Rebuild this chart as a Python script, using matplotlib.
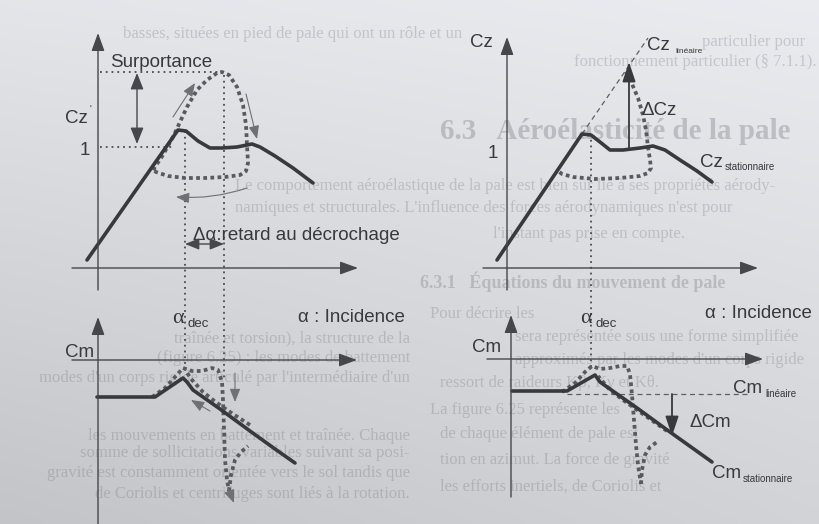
import numpy as np
import matplotlib.pyplot as plt

INK = "#38393d"
DOTS = "#575a60"
AXIS = "#46474c"
THIN = "#6e7075"

# ---- top left: Cz static vs dynamic stall loop ----
cz_stat_l_x = [87, 178, 186, 198, 210, 222, 237, 252, 260, 275, 293, 313]
cz_stat_l_y = [260, 130, 131, 141, 148, 148, 147, 144, 147, 156, 168, 183]
cz_dyn_l_x = [153, 163, 174, 180, 187, 197, 207, 217, 222, 229, 237, 243, 246,
              247, 248, 246, 240, 225, 205, 185, 168, 156, 153]
cz_dyn_l_y = [170, 155, 135, 122, 107, 90, 80, 73, 72, 75, 87, 105, 125,
              145, 163, 171, 175, 177, 178, 178, 176, 172, 170]

# ---- top right: Cz linear / stationary ----
cz_stat_r_x = [497, 582, 591, 600, 610, 623, 640, 653, 665, 680, 697, 712]
cz_stat_r_y = [260, 134, 135, 142, 150, 150, 148, 146, 150, 160, 171, 182]
cz_lin_r_x = [582, 648]
cz_lin_r_y = [134, 38]
cz_dyn_r_x = [626, 632, 638, 643, 646, 648, 650, 651, 648, 640, 620, 595, 573, 562, 558]
cz_dyn_r_y = [72, 84, 98, 115, 130, 147, 160, 168, 173, 176, 178, 179, 177, 174, 171]

# ---- bottom left: Cm ----
cm_stat_l_x = [97, 155, 183, 187, 193, 220, 250, 275, 295]
cm_stat_l_y = [397, 397, 378, 382, 390, 409, 431, 449, 463]
cm_dyn_l_x = [152, 165, 175, 183, 192, 202, 212, 218, 222, 223, 224, 225, 227, 229]
cm_dyn_l_y = [397, 388, 377, 368, 371, 371, 368, 370, 382, 400, 430, 460, 480, 491]
cm_ret_l_x = [229, 231, 235, 241, 248]
cm_ret_l_y = [491, 475, 460, 452, 446]
cm_up_l_x = [250, 233, 217, 203, 192, 185]
cm_up_l_y = [425, 414, 403, 392, 380, 370]

# ---- bottom right: Cm linear / stationary ----
cm_stat_r_x = [512, 567, 595, 600, 610, 637, 670, 712]
cm_stat_r_y = [391, 391, 375, 382, 389, 408, 432, 462]
cm_lin_r_x = [567, 747]
cm_lin_r_y = [394, 394]
cm_dyn_r_x = [562, 575, 585, 592, 600, 610, 620, 627, 630, 632, 634, 636, 638, 641]
cm_dyn_r_y = [392, 383, 372, 366, 369, 368, 366, 366, 374, 395, 420, 445, 465, 484]
cm_ret_r_x = [641, 642, 645, 650, 657]
cm_ret_r_y = [484, 470, 455, 447, 442]
cm_up_r_x = [667, 657, 640, 623, 610, 598]
cm_up_r_y = [431, 424, 412, 400, 390, 376]

# page text showing through the paper
bg_text = [
    (462, 38, "basses, situées en pied de pale qui ont un rôle et un", "right"),
    (702, 46, "particulier pour", "left"),
    (574, 66, "fonctionnement particulier (§ 7.1.1).", "left"),
    (235, 190, "Le comportement aéroélastique de la pale est bien sûr lié à ses propriétés aérody-", "left"),
    (235, 212, "namiques et structurales. L'influence des forces aérodynamiques n'est pour", "left"),
    (493, 238, "l'instant pas prise en compte.", "left"),
    (430, 318, "Pour décrire les", "left"),
    (410, 342, "traînée et torsion), la structure de la", "right"),
    (515, 341, "sera représentée sous une forme simplifiée", "left"),
    (410, 362, "(figure 6.25) : les modes de battement", "right"),
    (515, 364, "approximés par les modes d'un corps rigide", "left"),
    (410, 382, "modes d'un corps rigide articulé par l'intermédiaire d'un", "right"),
    (440, 387, "ressort de raideurs Kβ, Kγ et Kθ.", "left"),
    (430, 414, "La figure 6.25 représente les", "left"),
    (410, 440, "les mouvements en battement et traînée. Chaque", "right"),
    (440, 438, "de chaque élément de pale est", "left"),
    (410, 457, "somme de sollicitations variables suivant sa posi-", "right"),
    (440, 464, "tion en azimut. La force de gravité", "left"),
    (410, 477, "gravité est constamment orientée vers le sol tandis que", "right"),
    (440, 491, "les efforts inertiels, de Coriolis et", "left"),
    (410, 498, "de Coriolis et centrifuges sont liés à la rotation.", "right"),
]

plt.rcParams["font.family"] = ["Liberation Sans", "DejaVu Sans"]

fig = plt.figure(figsize=(8.2, 5.24), dpi=100)
ax = fig.add_axes([0, 0, 1, 1])

# paper shading, lighter at the top right
gy, gx = np.mgrid[0:1:60j, 0:1:90j]
top = 0.905 + 0.025 * gx
bottom = 0.775 + 0.06 * gx
shade = top * (1 - gy) + bottom * gy
paper = np.clip(np.dstack([shade * 0.985, shade * 0.993, shade * 1.012]), 0, 1)
ax.imshow(paper, extent=[0, 820, 524, 0], aspect="auto", interpolation="bicubic", zorder=0)
ax.set_xlim(0, 820)
ax.set_ylim(524, 0)
ax.axis("off")

for x, y, s, ha in bg_text:
    ax.text(x, y, s, ha=ha, va="baseline", fontsize=12, color="#60646b", alpha=0.26,
            family="Liberation Serif", zorder=1)
ax.text(440, 139, "6.3   Aéroélasticité de la pale", fontsize=21, fontweight="bold",
        color="#60646b", alpha=0.3, family="Liberation Serif", zorder=1)
ax.text(420, 288, "6.3.1   Équations du mouvement de pale", fontsize=13, fontweight="bold",
        color="#60646b", alpha=0.28, family="Liberation Serif", zorder=1)


def arrow(x0, y0, x1, y1, lw=1.0, color=AXIS, hl=0.55, hw=0.2, ms=20, style="-|>", rad=0):
    ax.annotate("", xy=(x1, y1), xytext=(x0, y0), zorder=4,
                arrowprops=dict(arrowstyle=f"{style},head_length={hl},head_width={hw}",
                                lw=lw, color=color, mutation_scale=ms,
                                shrinkA=0, shrinkB=0,
                                connectionstyle=f"arc3,rad={rad}"))


def solid(xs, ys):
    ax.plot(xs, ys, color=INK, lw=2.6, solid_joinstyle="round",
            solid_capstyle="round", zorder=3)


def dotted(xs, ys):
    ax.plot(xs, ys, color=DOTS, lw=2.7, ls=(0, (1.0, 0.9)), zorder=3)


def dots_line(xs, ys):
    ax.plot(xs, ys, color="#4a4b50", lw=1.3, ls=(0, (1, 2.2)), zorder=2)


def dashed(xs, ys):
    ax.plot(xs, ys, color="#5d5f64", lw=0.9, ls=(0, (4, 3)), zorder=2)


# axes
arrow(98, 290, 98, 33)
arrow(72, 268, 358, 268)
arrow(507, 290, 507, 37)
arrow(483, 268, 758, 268)
arrow(98, 524, 98, 317)
arrow(72, 360, 357, 360)
arrow(511, 497, 511, 315)
arrow(487, 359, 763, 359)

# top left
dots_line([100, 222], [72, 72])
dots_line([100, 175], [147, 147])
dots_line([185, 185], [131, 370])
dots_line([224, 224], [75, 378])
dotted(cz_dyn_l_x, cz_dyn_l_y)
solid(cz_stat_l_x, cz_stat_l_y)
arrow(137, 144, 137, 73, style="<|-|>", hl=0.5, hw=0.2, ms=20)
arrow(173, 117, 195, 83, lw=0.8, color=THIN, hl=0.5, hw=0.2, ms=16)
arrow(246, 94, 257, 139, lw=0.8, color=THIN, hl=0.5, hw=0.2, ms=16)
arrow(247, 188, 176, 197, lw=0.8, color=THIN, hl=0.5, hw=0.2, ms=16, rad=-0.1)
arrow(185, 244, 224, 244, style="<|-|>", hl=0.5, hw=0.2, ms=17)

ax.text(110, 67, "Surportance", fontsize=13.5, color=INK, va="baseline")
ax.text(65, 123, "Cz", fontsize=13.5, color=INK, va="baseline")
ax.text(90, 113, "'", fontsize=7, color=INK, va="baseline")
ax.text(80, 155, "1", fontsize=13.5, color=INK, va="baseline")
ax.text(193, 240, "Δα:retard au décrochage", fontsize=13.5, color=INK, va="baseline")

# top right
dots_line([591, 591], [134, 368])
dashed(cz_lin_r_x, cz_lin_r_y)
dotted(cz_dyn_r_x, cz_dyn_r_y)
solid(cz_stat_r_x, cz_stat_r_y)
arrow(629, 148, 629, 62, lw=1.3, color=INK, hl=0.6, hw=0.2, ms=20)
ax.text(470, 47, "Cz", fontsize=13.5, color=INK, va="baseline")
ax.text(488, 158, "1", fontsize=13.5, color=INK, va="baseline")
ax.text(647, 50, "Cz", fontsize=13.5, color=INK, va="baseline")
ax.text(675, 53, "linéaire", fontsize=6, color=INK, va="baseline")
ax.text(642, 115, "ΔCz", fontsize=13.5, color=INK, va="baseline")
ax.text(700, 167, "Cz", fontsize=13.5, color=INK, va="baseline")
ax.text(725, 170, "stationnaire", fontsize=7, color=INK, va="baseline")

# bottom left
dotted(cm_dyn_l_x, cm_dyn_l_y)
dotted(cm_ret_l_x, cm_ret_l_y)
dotted(cm_up_l_x, cm_up_l_y)
solid(cm_stat_l_x, cm_stat_l_y)
arrow(235, 373, 235, 402, lw=0.8, color=THIN, hl=0.5, hw=0.2, ms=16)
arrow(228, 488, 234, 503, lw=0.8, color=THIN, hl=0.5, hw=0.2, ms=16)
arrow(210, 411, 191, 400, lw=0.8, color=THIN, hl=0.5, hw=0.2, ms=16)
ax.text(65, 357, "Cm", fontsize=13.5, color=INK, va="baseline")
ax.text(172, 323, "α", fontsize=16, color=INK, va="baseline", family="Liberation Serif")
ax.text(188, 327, "dec", fontsize=9.5, color=INK, va="baseline")
ax.text(298, 322, "α : Incidence", fontsize=13.5, color=INK, va="baseline")

# bottom right
dashed(cm_lin_r_x, cm_lin_r_y)
dotted(cm_dyn_r_x, cm_dyn_r_y)
dotted(cm_ret_r_x, cm_ret_r_y)
dotted(cm_up_r_x, cm_up_r_y)
solid(cm_stat_r_x, cm_stat_r_y)
arrow(672, 394, 672, 436, lw=1.3, color=INK, hl=0.6, hw=0.2, ms=20)
ax.text(472, 352, "Cm", fontsize=13.5, color=INK, va="baseline")
ax.text(580, 323, "α", fontsize=16, color=INK, va="baseline", family="Liberation Serif")
ax.text(596, 327, "dec", fontsize=9.5, color=INK, va="baseline")
ax.text(705, 318, "α : Incidence", fontsize=13.5, color=INK, va="baseline")
ax.text(733, 393, "Cm", fontsize=13.5, color=INK, va="baseline")
ax.text(765, 397, "linéaire", fontsize=7, color=INK, va="baseline")
ax.text(690, 427, "ΔCm", fontsize=13.5, color=INK, va="baseline")
ax.text(712, 478, "Cm", fontsize=13.5, color=INK, va="baseline")
ax.text(743, 482, "stationnaire", fontsize=7, color=INK, va="baseline")

fig.savefig("out.png", dpi=100)
